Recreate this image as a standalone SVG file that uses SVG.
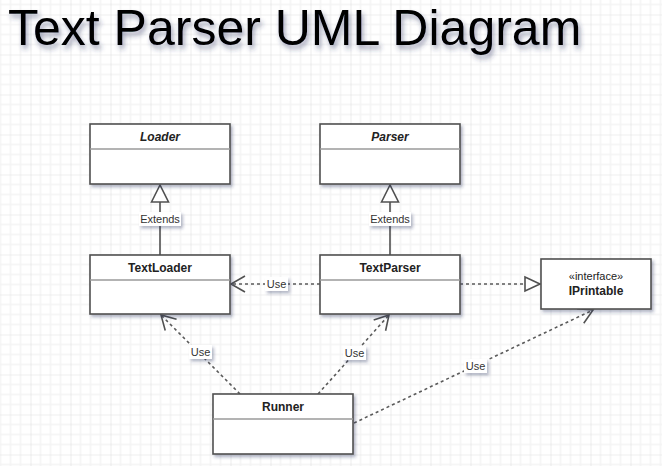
<svg xmlns="http://www.w3.org/2000/svg" width="662" height="466" viewBox="0 0 662 466">
  <style>
    .box { fill: #ffffff; stroke: #505050; stroke-width: 1.6; }
    .div { stroke: #9a9a9a; stroke-width: 1.4; }
    .name { font-family: "Liberation Sans", Arial, sans-serif; font-size: 12px; font-weight: bold; fill: #222; text-anchor: middle; }
    .ital { font-style: italic; }
    .stereo { font-family: "Liberation Sans", Arial, sans-serif; font-size: 11px; fill: #222; text-anchor: middle; }
    .lbl { font-family: "Liberation Sans", Arial, sans-serif; font-size: 11px; fill: #333; text-anchor: middle; }
    .lblbg { fill: #ffffff; }
    .solid { fill: none; stroke: #505050; stroke-width: 1.6; }
    .dash { fill: none; stroke: #5a5a5a; stroke-width: 1.6; stroke-dasharray: 3 3; }
    .title { font-family: "Liberation Sans", Arial, sans-serif; font-size: 50px; fill: #000; }
  </style>
  <defs>
    <pattern id="grid" patternUnits="userSpaceOnUse" width="40" height="40" x="30.5" y="14.5">
      <rect width="40" height="40" fill="#ffffff"/>
      <path d="M10,0V40M20,0V40M30,0V40M0,10H40M0,20H40M0,30H40" stroke="#f4f4f4" stroke-width="1.5"/>
      <path d="M0,0V40M0,0H40" stroke="#e0e0e0" stroke-width="1.2"/>
    </pattern>
    <filter id="sh" x="-20%" y="-20%" width="140%" height="150%">
      <feDropShadow dx="2" dy="2.5" stdDeviation="1.8" flood-color="#2a3560" flood-opacity="0.35"/>
    </filter>
    <filter id="tsh" x="-5%" y="-20%" width="110%" height="150%">
      <feDropShadow dx="2" dy="4" stdDeviation="2.5" flood-color="#2a3560" flood-opacity="0.45"/>
    </filter>
    <marker id="open" markerUnits="userSpaceOnUse" markerWidth="18" markerHeight="20" viewBox="0 0 18 20" refX="16" refY="10" orient="auto">
      <path d="M2,2 L16,10 L2,18" fill="none" stroke="#505050" stroke-width="1.6"/>
    </marker>
    <marker id="tri" markerUnits="userSpaceOnUse" markerWidth="20" markerHeight="20" viewBox="0 0 20 20" refX="18" refY="10" orient="auto">
      <path d="M1,1.5 L18,10 L1,18.5 Z" fill="#ffffff" stroke="#505050" stroke-width="1.6"/>
    </marker>
    <marker id="tri2" markerUnits="userSpaceOnUse" markerWidth="18" markerHeight="18" viewBox="0 0 18 18" refX="16" refY="9" orient="auto">
      <path d="M1,2 L16,9 L1,16 Z" fill="#ffffff" stroke="#505050" stroke-width="1.6"/>
    </marker>
  </defs>

  <rect width="662" height="466" fill="url(#grid)"/>

  <text class="title" x="8" y="45" filter="url(#tsh)">Text Parser UML Diagram</text>

  <g id="connectors">
    <line class="solid" x1="160" y1="255" x2="160" y2="185" marker-end="url(#tri)"/>
    <line class="solid" x1="390" y1="255" x2="390" y2="185" marker-end="url(#tri)"/>
    <line class="dash" x1="320" y1="284" x2="231" y2="284" marker-end="url(#open)"/>
    <line class="dash" x1="460" y1="284" x2="540" y2="284" marker-end="url(#tri2)"/>
    <line class="dash" x1="240" y1="394" x2="161" y2="315" marker-end="url(#open)"/>
    <line class="dash" x1="318" y1="394" x2="389" y2="315" marker-end="url(#open)"/>
    <line class="dash" x1="354" y1="423" x2="593" y2="310" marker-end="url(#open)"/>

    <g filter="url(#sh)">
      <rect class="lblbg" x="139" y="212" width="42" height="14"/>
      <rect class="lblbg" x="369" y="212" width="42" height="14"/>
      <rect class="lblbg" x="265" y="277" width="23" height="14"/>
      <rect class="lblbg" x="189" y="345" width="23" height="14"/>
      <rect class="lblbg" x="343" y="346" width="23" height="14"/>
      <rect class="lblbg" x="464" y="359" width="23" height="14"/>
    </g>
    <text class="lbl" x="160" y="223">Extends</text>
    <text class="lbl" x="390" y="223">Extends</text>
    <text class="lbl" x="276.5" y="288">Use</text>
    <text class="lbl" x="200.5" y="356">Use</text>
    <text class="lbl" x="354.5" y="357">Use</text>
    <text class="lbl" x="475.5" y="370">Use</text>
  </g>

  <g id="Loader">
    <rect class="box" x="90" y="124" width="140" height="60" filter="url(#sh)"/>
    <line class="div" x1="90" y1="149" x2="230" y2="149"/>
    <text class="name ital" x="160" y="141">Loader</text>
  </g>
  <g id="Parser">
    <rect class="box" x="320" y="124" width="140" height="60" filter="url(#sh)"/>
    <line class="div" x1="320" y1="149" x2="460" y2="149"/>
    <text class="name ital" x="390" y="141">Parser</text>
  </g>
  <g id="TextLoader">
    <rect class="box" x="90" y="255" width="140" height="59" filter="url(#sh)"/>
    <line class="div" x1="90" y1="280" x2="230" y2="280"/>
    <text class="name" x="160" y="272">TextLoader</text>
  </g>
  <g id="TextParser">
    <rect class="box" x="320" y="255" width="140" height="59" filter="url(#sh)"/>
    <line class="div" x1="320" y1="280" x2="460" y2="280"/>
    <text class="name" x="390" y="272">TextParser</text>
  </g>
  <g id="IPrintable">
    <rect class="box" x="541" y="259" width="110" height="50" filter="url(#sh)"/>
    <text class="stereo" x="596" y="280">«interface»</text>
    <text class="name" x="596" y="295">IPrintable</text>
  </g>
  <g id="Runner">
    <rect class="box" x="213" y="394" width="140" height="60" filter="url(#sh)"/>
    <line class="div" x1="213" y1="419" x2="353" y2="419"/>
    <text class="name" x="283" y="411">Runner</text>
  </g>
</svg>
